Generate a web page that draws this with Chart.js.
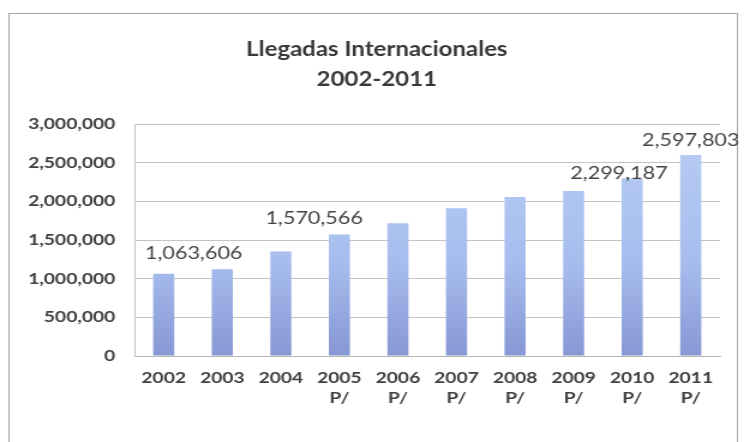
<!DOCTYPE html>
<html>
<head>
<meta charset="utf-8">
<script src="https://cdn.jsdelivr.net/npm/chart.js@4/dist/chart.umd.min.js"></script>
<style>
  html, body { margin: 0; padding: 0; background: #fff; }
  /* the chart is laid out narrow and widened horizontally */
  #wrap { width: 620px; height: 442px; transform: scaleX(1.2); transform-origin: 0 0; }
</style>
</head>
<body>
<div id="wrap"><canvas id="arrivals"></canvas></div>
<script>
const years = ['2002', '2003', '2004', '2005', '2006', '2007', '2008', '2009', '2010', '2011'];
const yearNotes = ['', '', '', 'P/', 'P/', 'P/', 'P/', 'P/', 'P/', 'P/'];
const arrivals = [1063606, 1122000, 1352000, 1570566, 1717000, 1910000, 2057000, 2135000, 2299187, 2597803];
const yTicks = [0, 500000, 1000000, 1500000, 2000000, 2500000, 3000000];

const fmt = v => Number(v).toLocaleString('en-US');
const FONT = 'Lato';

// multi-line x labels: year plus the preliminary "P/" mark
const xLabels = years.map((y, i) => yearNotes[i] ? [y, yearNotes[i]] : [y]);

// outer frame of the chart box
const framePlugin = {
  id: 'frame',
  beforeDraw(chart) {
    const c = chart.ctx;
    c.save();
    c.strokeStyle = '#a3a3a3';
    c.lineWidth = 1;
    c.strokeRect(7.5, 13.5, chart.width - 13, chart.height + 20);
    c.restore();
  }
};

// value labels for a few of the bars, nudged off the bar top
const valueLabelPlugin = {
  id: 'valueLabels',
  afterDatasetsDraw(chart, args, opts) {
    const c = chart.ctx;
    const meta = chart.getDatasetMeta(0);
    c.save();
    c.font = `${opts.size}px ${FONT}`;
    c.fillStyle = opts.color;
    c.textAlign = 'center';
    c.textBaseline = 'middle';
    opts.items.forEach(it => {
      const bar = meta.data[it.index];
      const v = chart.data.datasets[0].data[it.index];
      c.fillText(fmt(v), bar.x + it.dx, bar.y + it.dy);
    });
    c.restore();
  }
};

function barFill(ctx) {
  const area = ctx.chart.chartArea;
  if (!area) return '#a9c0ee';
  const g = ctx.chart.ctx.createLinearGradient(0, area.top, 0, area.bottom);
  g.addColorStop(0, '#b8cef4');
  g.addColorStop(0.6, '#a7bdee');
  g.addColorStop(1, '#8797d4');
  return g;
}

const tickFont = { family: FONT, size: 16, weight: 'bold', lineHeight: 1.25 };

new Chart(document.getElementById('arrivals'), {
  type: 'bar',
  data: {
    labels: xLabels,
    datasets: [{
      data: arrivals,
      backgroundColor: barFill,
      borderWidth: 0,
      barPercentage: 0.36,
      categoryPercentage: 1
    }]
  },
  plugins: [framePlugin, valueLabelPlugin],
  options: {
    responsive: true,
    maintainAspectRatio: false,
    animation: false,
    layout: { padding: { left: 8, right: 0, top: 0, bottom: 22 } },
    plugins: {
      legend: { display: false },
      tooltip: { enabled: false },
      title: {
        display: true,
        text: ['Llegadas Internacionales', '2002-2011'],
        color: '#383838',
        font: { family: FONT, size: 20, weight: 'bold', lineHeight: 1.5 },
        padding: { top: 35, bottom: 29 }
      },
      valueLabels: {
        size: 18,
        color: '#454545',
        items: [
          { index: 0, dx: 25, dy: -21 },
          { index: 3, dx: -21, dy: -16 },
          { index: 8, dx: -11, dy: -5 },
          { index: 9, dx: 0, dy: -15 }
        ]
      }
    },
    scales: {
      x: {
        grid: { display: false, drawTicks: false },
        border: { display: true, color: '#b5b5b5' },
        ticks: {
          color: '#404040',
          padding: 12,
          maxRotation: 0,
          autoSkip: false,
          font: tickFont
        }
      },
      y: {
        min: 0,
        max: 3000000,
        afterFit(scale) { scale.width = 104; },
        afterBuildTicks(scale) { scale.ticks = yTicks.map(v => ({ value: v })); },
        grid: { color: '#c4c4c4', drawTicks: false },
        border: { display: true, color: '#c4c4c4' },
        ticks: {
          color: '#404040',
          padding: 16,
          font: tickFont,
          callback: v => fmt(v)
        }
      },
      // empty right-hand gutter between the plot and the frame
      gutter: {
        position: 'right',
        afterFit(scale) { scale.width = 20; },
        grid: { display: false, drawTicks: false },
        border: { display: false },
        ticks: { display: false }
      }
    }
  }
});
</script>
</body>
</html>
